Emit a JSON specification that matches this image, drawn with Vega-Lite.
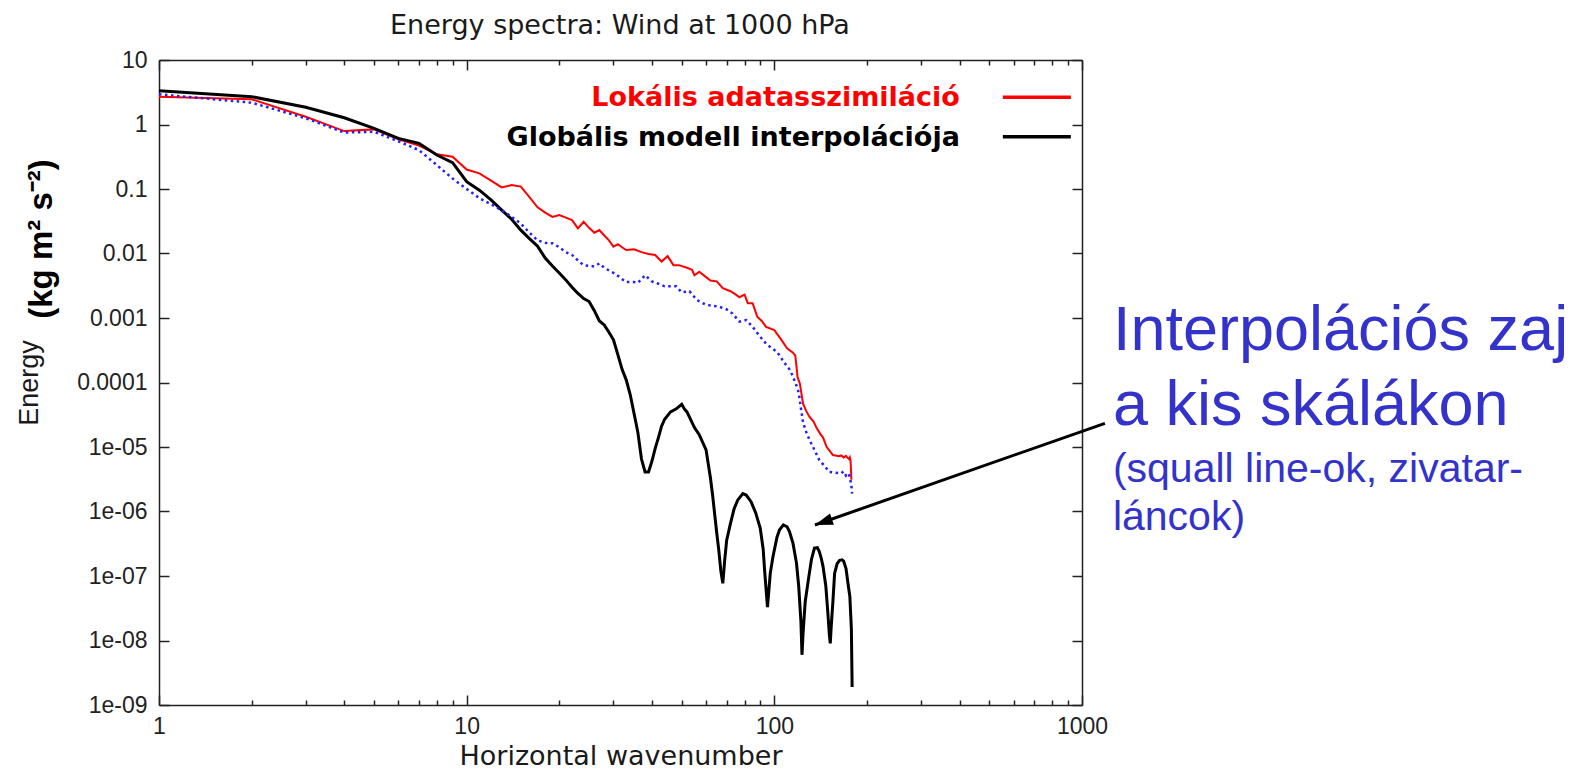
{
  "$schema": "https://vega.github.io/schema/vega-lite/v6.json",
  "width": 923,
  "height": 645,
  "autosize": {"type": "none"},
  "padding": {"left": 159, "top": 60, "right": 507, "bottom": 67},
  "background": "white",
  "config": {"view": {"stroke": null}, "font": "Liberation Sans"},
  "datasets": {
    "spectra": [
      {"s":"lokalis","k":1,"E":2.70},{"s":"lokalis","k":2,"E":2.46},{"s":"lokalis","k":3,"E":1.32},{"s":"lokalis","k":4,"E":0.79},
      {"s":"lokalis","k":5,"E":0.84},{"s":"lokalis","k":6,"E":0.59},{"s":"lokalis","k":7,"E":0.47},{"s":"lokalis","k":8,"E":0.345},
      {"s":"lokalis","k":9,"E":0.317},{"s":"lokalis","k":10,"E":0.20},{"s":"lokalis","k":11,"E":0.175},{"s":"lokalis","k":12,"E":0.135},
      {"s":"lokalis","k":13,"E":0.106},{"s":"lokalis","k":14,"E":0.115},{"s":"lokalis","k":15,"E":0.109},{"s":"lokalis","k":16,"E":0.075},
      {"s":"lokalis","k":17,"E":0.052},{"s":"lokalis","k":18,"E":0.043},{"s":"lokalis","k":19,"E":0.037},{"s":"lokalis","k":20,"E":0.0395},
      {"s":"lokalis","k":21,"E":0.036},{"s":"lokalis","k":22,"E":0.033},{"s":"lokalis","k":23,"E":0.0245},{"s":"lokalis","k":24,"E":0.031},
      {"s":"lokalis","k":25,"E":0.025},{"s":"lokalis","k":26,"E":0.021},{"s":"lokalis","k":27,"E":0.0231},{"s":"lokalis","k":28,"E":0.019},
      {"s":"lokalis","k":29,"E":0.016},{"s":"lokalis","k":30,"E":0.0128},{"s":"lokalis","k":31,"E":0.014},{"s":"lokalis","k":32,"E":0.0125},
      {"s":"lokalis","k":33,"E":0.0113},{"s":"lokalis","k":35,"E":0.0116},{"s":"lokalis","k":37,"E":0.0105},{"s":"lokalis","k":39,"E":0.0098},
      {"s":"lokalis","k":41,"E":0.0095},{"s":"lokalis","k":43,"E":0.0075},{"s":"lokalis","k":45,"E":0.0091},{"s":"lokalis","k":47,"E":0.0066},
      {"s":"lokalis","k":49,"E":0.0066},{"s":"lokalis","k":52,"E":0.0060},{"s":"lokalis","k":54,"E":0.0056},{"s":"lokalis","k":55,"E":0.0046},
      {"s":"lokalis","k":57,"E":0.0052},{"s":"lokalis","k":60,"E":0.0043},{"s":"lokalis","k":62,"E":0.0038},{"s":"lokalis","k":65,"E":0.0037},
      {"s":"lokalis","k":68,"E":0.0029},{"s":"lokalis","k":72,"E":0.0026},{"s":"lokalis","k":75,"E":0.0023},{"s":"lokalis","k":77,"E":0.0021},
      {"s":"lokalis","k":80,"E":0.0023},{"s":"lokalis","k":82,"E":0.0017},{"s":"lokalis","k":85,"E":0.0017},{"s":"lokalis","k":88,"E":0.00105},
      {"s":"lokalis","k":91,"E":0.0009},{"s":"lokalis","k":94,"E":0.00073},{"s":"lokalis","k":100,"E":0.00065},{"s":"lokalis","k":105,"E":0.00047},
      {"s":"lokalis","k":110,"E":0.00034},{"s":"lokalis","k":115,"E":0.00029},{"s":"lokalis","k":117,"E":0.00026},{"s":"lokalis","k":118,"E":0.00018},
      {"s":"lokalis","k":119,"E":0.00012},{"s":"lokalis","k":121,"E":0.000097},{"s":"lokalis","k":124,"E":0.000047},{"s":"lokalis","k":127,"E":0.000036},
      {"s":"lokalis","k":130,"E":0.0000295},{"s":"lokalis","k":134,"E":0.000025},{"s":"lokalis","k":137,"E":0.00002},{"s":"lokalis","k":141,"E":0.000016},
      {"s":"lokalis","k":144,"E":0.000014},{"s":"lokalis","k":148,"E":0.00001},{"s":"lokalis","k":152,"E":0.0000085},{"s":"lokalis","k":155,"E":0.0000075},
      {"s":"lokalis","k":158,"E":0.0000074},{"s":"lokalis","k":162,"E":0.0000072},{"s":"lokalis","k":165,"E":0.0000074},{"s":"lokalis","k":168,"E":0.0000069},
      {"s":"lokalis","k":171,"E":0.0000073},{"s":"lokalis","k":173,"E":0.0000068},{"s":"lokalis","k":175,"E":0.0000065},{"s":"lokalis","k":176,"E":0.0000069},
      {"s":"lokalis","k":177,"E":0.000006},{"s":"lokalis","k":178,"E":0.0000031},

      {"s":"globalis","k":1,"E":3.34},{"s":"globalis","k":2,"E":2.70},{"s":"globalis","k":3,"E":1.85},{"s":"globalis","k":4,"E":1.27},
      {"s":"globalis","k":5,"E":0.873},{"s":"globalis","k":6,"E":0.61},{"s":"globalis","k":7,"E":0.51},{"s":"globalis","k":8,"E":0.336},
      {"s":"globalis","k":9,"E":0.256},{"s":"globalis","k":10,"E":0.13},{"s":"globalis","k":11,"E":0.096},{"s":"globalis","k":12,"E":0.068},
      {"s":"globalis","k":13,"E":0.047},{"s":"globalis","k":14,"E":0.034},{"s":"globalis","k":15,"E":0.023},{"s":"globalis","k":16,"E":0.017},
      {"s":"globalis","k":17,"E":0.013},{"s":"globalis","k":18,"E":0.0085},{"s":"globalis","k":19,"E":0.0064},{"s":"globalis","k":20,"E":0.005},
      {"s":"globalis","k":21,"E":0.0039},{"s":"globalis","k":22,"E":0.003},{"s":"globalis","k":23,"E":0.0024},{"s":"globalis","k":24,"E":0.002},
      {"s":"globalis","k":25,"E":0.0018},{"s":"globalis","k":26,"E":0.0013},{"s":"globalis","k":27,"E":0.0009},{"s":"globalis","k":28,"E":0.00078},
      {"s":"globalis","k":29,"E":0.0006},{"s":"globalis","k":30,"E":0.00046},{"s":"globalis","k":31,"E":0.00027},{"s":"globalis","k":32,"E":0.00016},
      {"s":"globalis","k":33,"E":0.00011},{"s":"globalis","k":34,"E":0.000065},{"s":"globalis","k":35,"E":0.000033},{"s":"globalis","k":36,"E":0.000017},
      {"s":"globalis","k":37,"E":0.0000065},{"s":"globalis","k":38,"E":0.0000041},{"s":"globalis","k":39,"E":0.0000041},{"s":"globalis","k":40,"E":0.000006},
      {"s":"globalis","k":41,"E":0.0000095},{"s":"globalis","k":42,"E":0.000014},{"s":"globalis","k":43,"E":0.000021},{"s":"globalis","k":44,"E":0.000027},
      {"s":"globalis","k":46,"E":0.000035},{"s":"globalis","k":48,"E":0.000039},{"s":"globalis","k":50,"E":0.000046},{"s":"globalis","k":51,"E":0.000039},
      {"s":"globalis","k":52,"E":0.000035},{"s":"globalis","k":55,"E":0.00002},{"s":"globalis","k":57,"E":0.0000155},{"s":"globalis","k":60,"E":0.000009},
      {"s":"globalis","k":62,"E":0.0000033},{"s":"globalis","k":63,"E":0.0000018},{"s":"globalis","k":64,"E":0.0000009},{"s":"globalis","k":65,"E":0.00000046},
      {"s":"globalis","k":66,"E":0.00000025},{"s":"globalis","k":67,"E":0.00000012},{"s":"globalis","k":68,"E":0.000000077},{"s":"globalis","k":69,"E":0.00000018},
      {"s":"globalis","k":70,"E":0.00000036},{"s":"globalis","k":72,"E":0.00000065},{"s":"globalis","k":74,"E":0.0000011},{"s":"globalis","k":76,"E":0.0000015},
      {"s":"globalis","k":79,"E":0.0000019},{"s":"globalis","k":81,"E":0.0000018},{"s":"globalis","k":84,"E":0.00000142},{"s":"globalis","k":87,"E":0.00000095},
      {"s":"globalis","k":90,"E":0.00000055},{"s":"globalis","k":92,"E":0.00000026},{"s":"globalis","k":93,"E":0.00000012},{"s":"globalis","k":95,"E":0.000000033},
      {"s":"globalis","k":96,"E":0.00000006},{"s":"globalis","k":97,"E":0.00000011},{"s":"globalis","k":99,"E":0.0000002},{"s":"globalis","k":102,"E":0.0000004},
      {"s":"globalis","k":104,"E":0.00000052},{"s":"globalis","k":107,"E":0.00000062},{"s":"globalis","k":110,"E":0.00000058},{"s":"globalis","k":112,"E":0.00000049},
      {"s":"globalis","k":115,"E":0.00000032},{"s":"globalis","k":118,"E":0.00000016},{"s":"globalis","k":120,"E":0.00000007},{"s":"globalis","k":122,"E":0.00000002},
      {"s":"globalis","k":123,"E":0.000000006},{"s":"globalis","k":124,"E":0.000000013},{"s":"globalis","k":126,"E":0.00000004},{"s":"globalis","k":129,"E":0.000000087},
      {"s":"globalis","k":132,"E":0.00000018},{"s":"globalis","k":135,"E":0.00000027},{"s":"globalis","k":138,"E":0.000000275},{"s":"globalis","k":140,"E":0.00000024},
      {"s":"globalis","k":142,"E":0.00000019},{"s":"globalis","k":144,"E":0.00000014},{"s":"globalis","k":147,"E":0.00000007},{"s":"globalis","k":149,"E":0.00000003},
      {"s":"globalis","k":151,"E":0.000000012},{"s":"globalis","k":152,"E":0.000000009},{"s":"globalis","k":153,"E":0.000000016},{"s":"globalis","k":155,"E":0.00000004},
      {"s":"globalis","k":157,"E":0.00000011},{"s":"globalis","k":160,"E":0.000000155},{"s":"globalis","k":163,"E":0.000000175},{"s":"globalis","k":166,"E":0.000000178},
      {"s":"globalis","k":168,"E":0.00000017},{"s":"globalis","k":171,"E":0.00000013},{"s":"globalis","k":174,"E":0.00000007},{"s":"globalis","k":176,"E":0.000000048},
      {"s":"globalis","k":178,"E":0.000000015},{"s":"globalis","k":179,"E":0.0000000019},

      {"s":"pontozott","k":1,"E":2.94},{"s":"pontozott","k":2,"E":2.18},{"s":"pontozott","k":3,"E":1.25},{"s":"pontozott","k":4,"E":0.75},
      {"s":"pontozott","k":5,"E":0.77},{"s":"pontozott","k":6,"E":0.55},{"s":"pontozott","k":7,"E":0.40},{"s":"pontozott","k":8,"E":0.235},
      {"s":"pontozott","k":9,"E":0.145},{"s":"pontozott","k":10,"E":0.10},{"s":"pontozott","k":11,"E":0.072},{"s":"pontozott","k":12,"E":0.058},
      {"s":"pontozott","k":13,"E":0.047},{"s":"pontozott","k":14,"E":0.037},{"s":"pontozott","k":15,"E":0.029},{"s":"pontozott","k":16,"E":0.021},
      {"s":"pontozott","k":17,"E":0.016},{"s":"pontozott","k":18,"E":0.0147},{"s":"pontozott","k":19,"E":0.0144},{"s":"pontozott","k":20,"E":0.0125},
      {"s":"pontozott","k":21,"E":0.0105},{"s":"pontozott","k":22,"E":0.0095},{"s":"pontozott","k":23,"E":0.0078},{"s":"pontozott","k":24,"E":0.0066},
      {"s":"pontozott","k":26,"E":0.0063},{"s":"pontozott","k":27,"E":0.007},{"s":"pontozott","k":28,"E":0.006},{"s":"pontozott","k":30,"E":0.005},
      {"s":"pontozott","k":31,"E":0.0045},{"s":"pontozott","k":33,"E":0.0036},{"s":"pontozott","k":35,"E":0.0036},{"s":"pontozott","k":36,"E":0.0035},
      {"s":"pontozott","k":37,"E":0.004},{"s":"pontozott","k":38,"E":0.0046},{"s":"pontozott","k":40,"E":0.0037},{"s":"pontozott","k":42,"E":0.0034},
      {"s":"pontozott","k":44,"E":0.0031},{"s":"pontozott","k":48,"E":0.0031},{"s":"pontozott","k":50,"E":0.0025},{"s":"pontozott","k":53,"E":0.0026},
      {"s":"pontozott","k":56,"E":0.0019},{"s":"pontozott","k":60,"E":0.0016},{"s":"pontozott","k":66,"E":0.0015},{"s":"pontozott","k":70,"E":0.00136},
      {"s":"pontozott","k":73,"E":0.00118},{"s":"pontozott","k":77,"E":0.00088},{"s":"pontozott","k":81,"E":0.00093},{"s":"pontozott","k":85,"E":0.00073},
      {"s":"pontozott","k":90,"E":0.00051},{"s":"pontozott","k":94,"E":0.0004},{"s":"pontozott","k":98,"E":0.00034},{"s":"pontozott","k":102,"E":0.0003},
      {"s":"pontozott","k":108,"E":0.0002},{"s":"pontozott","k":112,"E":0.00016},{"s":"pontozott","k":115,"E":0.000123},{"s":"pontozott","k":118,"E":0.00009},
      {"s":"pontozott","k":120,"E":0.00007},{"s":"pontozott","k":122,"E":0.00004},{"s":"pontozott","k":124,"E":0.000024},{"s":"pontozott","k":127,"E":0.000017},
      {"s":"pontozott","k":130,"E":0.000013},{"s":"pontozott","k":135,"E":0.000009},{"s":"pontozott","k":140,"E":0.0000063},{"s":"pontozott","k":146,"E":0.000005},
      {"s":"pontozott","k":151,"E":0.0000041},{"s":"pontozott","k":158,"E":0.000004},{"s":"pontozott","k":165,"E":0.0000039},{"s":"pontozott","k":168,"E":0.0000042},
      {"s":"pontozott","k":171,"E":0.0000036},{"s":"pontozott","k":174,"E":0.0000039},{"s":"pontozott","k":176,"E":0.0000034},{"s":"pontozott","k":178,"E":0.0000025},
      {"s":"pontozott","k":179,"E":0.0000019}
    ],
    "legend": [
      {"label": "Lokális adatasszimiláció", "k": 401, "E": 2.55, "k1": 553, "k2": 920, "Eline": 2.64},
      {"label": "Globális modell interpolációja", "k": 401, "E": 0.607, "k1": 553, "k2": 920, "Eline": 0.644}
    ],
    "heading": [
      {"text": "Energy spectra: Wind at 1000 hPa", "k": 31.5, "E": 25.3}
    ],
    "arrow": [
      {"k": 1187, "E": 0.0000233, "kTip": 135.5, "ETip": 0.000000618}
    ],
    "noteBig": [
      {"line": "Interpolációs zaj", "k": 1260, "E": 0.000319},
      {"line": "a kis skálákon", "k": 1260, "E": 0.0000219}
    ],
    "noteSmall": [
      {"line": "(squall line-ok, zivatar-", "k": 1260, "E": 0.0000029},
      {"line": "láncok)", "k": 1260, "E": 0.000000517}
    ],
    "unit": [
      {"text": "(kg m² s⁻²)", "k": 0.418, "E": 0.0168}
    ]
  },
  "layer": [
    {
      "data": {"name": "spectra"},
      "layer": [
        {
          "transform": [{"filter": "datum.s === 'lokalis'"}],
          "mark": {"type": "line", "color": "#ff0000", "strokeWidth": 2},
          "encoding": {
            "x": {
              "field": "k", "type": "quantitative",
              "scale": {"type": "log", "domain": [1, 1000], "nice": false},
              "axis": {
                "orient": "bottom",
                "title": "Horizontal wavenumber",
                "titleFont": "DejaVu Sans", "titleFontSize": 27, "titleFontWeight": "normal", "titleColor": "#1a1a1a",
                "titlePadding": 0,
                "values": [1,2,3,4,5,6,7,8,9,10,20,30,40,50,60,70,80,90,100,200,300,400,500,600,700,800,900,1000],
                "format": "d",
                "labelExpr": "indexof([1,10,100,1000], datum.value) >= 0 ? datum.label : ''",
                "labelFont": "Liberation Sans", "labelFontSize": 23, "labelColor": "#222",
                "labelPadding": 20, "labelFlush": false, "labelOverlap": false,
                "tickSize": {"condition": {"test": "indexof([1,10,100,1000], datum.value) >= 0", "value": -10}, "value": -5},
                "tickColor": "#222", "tickWidth": 1.5,
                "domainColor": "#222", "domainWidth": 1.5,
                "grid": false
              }
            },
            "y": {
              "field": "E", "type": "quantitative",
              "scale": {"type": "log", "domain": [1e-9, 10], "nice": false},
              "axis": {
                "orient": "left",
                "title": "Energy",
                "titleFont": "Liberation Sans", "titleFontSize": 27, "titleFontWeight": "normal", "titleColor": "#1a1a1a",
                "titlePadding": 33,
                "values": [1e-9, 1e-8, 1e-7, 1e-6, 1e-5, 1e-4, 1e-3, 1e-2, 1e-1, 1, 10],
                "labelExpr": "datum.value >= 0.0001 ? format(datum.value, '~g') : '1e-0' + format(-round(log(datum.value) / LN10), 'd')",
                "labelFont": "Liberation Sans", "labelFontSize": 23, "labelColor": "#222",
                "labelPadding": 22, "labelFlush": false, "labelOverlap": false,
                "tickSize": -10,
                "tickColor": "#222", "tickWidth": 1.5,
                "domainColor": "#222", "domainWidth": 1.5,
                "grid": false
              }
            }
          }
        },
        {
          "transform": [{"filter": "datum.s === 'globalis'"}],
          "mark": {"type": "line", "color": "#000000", "strokeWidth": 3},
          "encoding": {
            "x": {"field": "k", "type": "quantitative"},
            "y": {"field": "E", "type": "quantitative"}
          }
        },
        {
          "transform": [{"filter": "datum.s === 'pontozott'"}],
          "mark": {"type": "line", "color": "#1f1fff", "strokeWidth": 2.5, "strokeDash": [2.5, 3.5]},
          "encoding": {
            "x": {"field": "k", "type": "quantitative"},
            "y": {"field": "E", "type": "quantitative"}
          }
        }
      ]
    },
    {
      "layer": [
        {
          "data": {"name": "legend"},
          "mark": {"type": "rule", "strokeWidth": 3.5},
          "encoding": {
            "x": {
              "field": "k1", "type": "quantitative",
              "axis": {
                "orient": "top", "title": null, "labels": false,
                "values": [1,2,3,4,5,6,7,8,9,10,20,30,40,50,60,70,80,90,100,200,300,400,500,600,700,800,900,1000],
                "tickSize": {"condition": {"test": "indexof([1,10,100,1000], datum.value) >= 0", "value": -10}, "value": -5},
                "tickColor": "#222", "tickWidth": 1.5,
                "domainColor": "#222", "domainWidth": 1.5,
                "grid": false
              }
            },
            "x2": {"field": "k2"},
            "y": {
              "field": "Eline", "type": "quantitative",
              "axis": {
                "orient": "right", "title": null, "labels": false,
                "values": [1e-9, 1e-8, 1e-7, 1e-6, 1e-5, 1e-4, 1e-3, 1e-2, 1e-1, 1, 10],
                "tickSize": -10,
                "tickColor": "#222", "tickWidth": 1.5,
                "domainColor": "#222", "domainWidth": 1.5,
                "grid": false
              }
            },
            "color": {
              "field": "label", "type": "nominal",
              "scale": {"domain": ["Lokális adatasszimiláció", "Globális modell interpolációja"], "range": ["#ff0000", "#000000"]},
              "legend": null
            }
          }
        },
        {
          "data": {"name": "legend"},
          "mark": {"type": "text", "align": "right", "baseline": "middle", "font": "DejaVu Sans", "fontSize": 27, "fontWeight": "bold"},
          "encoding": {
            "x": {"field": "k", "type": "quantitative"},
            "y": {"field": "E", "type": "quantitative"},
            "text": {"field": "label"},
            "color": {"field": "label", "type": "nominal", "legend": null}
          }
        },
        {
          "data": {"name": "heading"},
          "mark": {"type": "text", "align": "center", "baseline": "alphabetic", "font": "DejaVu Sans", "fontSize": 27, "color": "#1a1a1a"},
          "encoding": {
            "x": {"field": "k", "type": "quantitative"},
            "y": {"field": "E", "type": "quantitative"},
            "text": {"field": "text"}
          }
        },
        {
          "data": {"name": "arrow"},
          "mark": {"type": "rule", "color": "#000000", "strokeWidth": 3},
          "encoding": {
            "x": {"field": "k", "type": "quantitative"},
            "y": {"field": "E", "type": "quantitative"},
            "x2": {"field": "kTip"},
            "y2": {"field": "ETip"}
          }
        },
        {
          "data": {"name": "arrow"},
          "mark": {"type": "point", "shape": "M0,0L-0.33,1L0.33,1Z", "filled": true, "color": "#000000", "opacity": 1, "size": 1296, "angle": 250.7, "strokeWidth": 0},
          "encoding": {
            "x": {"field": "kTip", "type": "quantitative"},
            "y": {"field": "ETip", "type": "quantitative"}
          }
        },
        {
          "data": {"name": "noteBig"},
          "mark": {"type": "text", "align": "left", "baseline": "alphabetic", "font": "Liberation Sans", "fontSize": 63, "color": "#3333cc"},
          "encoding": {
            "x": {"field": "k", "type": "quantitative"},
            "y": {"field": "E", "type": "quantitative"},
            "text": {"field": "line"}
          }
        },
        {
          "data": {"name": "noteSmall"},
          "mark": {"type": "text", "align": "left", "baseline": "alphabetic", "font": "Liberation Sans", "fontSize": 41, "color": "#3333cc"},
          "encoding": {
            "x": {"field": "k", "type": "quantitative"},
            "y": {"field": "E", "type": "quantitative"},
            "text": {"field": "line"}
          }
        },
        {
          "data": {"name": "unit"},
          "mark": {"type": "text", "align": "center", "baseline": "middle", "angle": 270, "font": "Liberation Sans", "fontSize": 33, "fontWeight": "bold", "color": "#000000"},
          "encoding": {
            "x": {"field": "k", "type": "quantitative"},
            "y": {"field": "E", "type": "quantitative"},
            "text": {"field": "text"}
          }
        }
      ]
    }
  ],
  "resolve": {"axis": {"x": "independent", "y": "independent"}}
}
